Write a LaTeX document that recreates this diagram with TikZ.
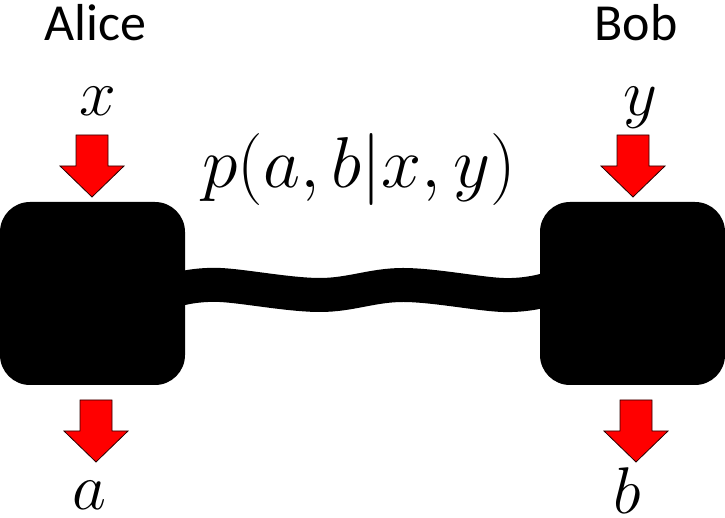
\RequirePackage{fix-cm}
\documentclass[tikz,border=0pt]{standalone}
\usepackage{amsmath,amssymb}
\usepackage{fontspec}
\newfontfamily\namefont{Carlito}
\usepackage{tikz}
\usetikzlibrary{backgrounds}
\tikzset{pics/flowarrow/.style={code={
  \draw[flow] (-16,31) -- (16,31) -- (16,0) -- (32,0) -- (0,-31) -- (-32,0) -- (-16,0) -- cycle;
}}}

\begin{document}
\begin{tikzpicture}[x=1pt,y=1pt,
                    box node/.style={rectangle,rounded corners=30pt,fill=black,inner sep=0pt,
                                     minimum width=185pt,minimum height=183pt},
                    flow/.style={fill=red,draw=black!85!red,line width=0.8pt,line join=miter},
                    link/.style={line width=34pt,black},
                    name label/.style={font=\namefont\fontsize{52}{60}\selectfont,anchor=base},
                    var label/.style={font=\fontsize{66}{76}\selectfont,anchor=base,inner sep=0pt}]

  \useasboundingbox (0,0) rectangle (725,518);

  \node[box node] (alice) at (92.5,224.5) {};
  \node[box node] (bob) at (632.5,224.5) {};

  \node[name label] (alicename) at (95,477) {Alice};
  \node[name label] (bobname) at (636,477) {Bob};

  \node[var label] (x) at (98,402) {$x$};
  \node[var label] (y) at (640,402) {$y$};
  \node[var label] (a) at (89,8) {$a$};
  \node[var label] (b) at (627,4) {$b$};
  \node[var label,font=\fontsize{72}{82}\selectfont] (prob) at (359,330) {$p(a,b|x,y)$};

  \pic (alicein) at (92,352) {flowarrow};
  \pic (aliceout) at (96,87) {flowarrow};
  \pic (bobin) at (633,352) {flowarrow};
  \pic (bobout) at (636,87) {flowarrow};

  % the channel between the two boxes
  \coordinate (w1) at (220,233);
  \coordinate (w2) at (320,223);
  \coordinate (w3) at (403,233);
  \coordinate (w4) at (503,223);
  \begin{scope}[on background layer]
    \draw[link] plot[smooth,tension=0.6] coordinates
      {([xshift=-6pt,yshift=4.5pt]alice.east) (w1) (w2) (w3) (w4) ([xshift=6pt,yshift=3.5pt]bob.west)};
  \end{scope}
\end{tikzpicture}
\end{document}
